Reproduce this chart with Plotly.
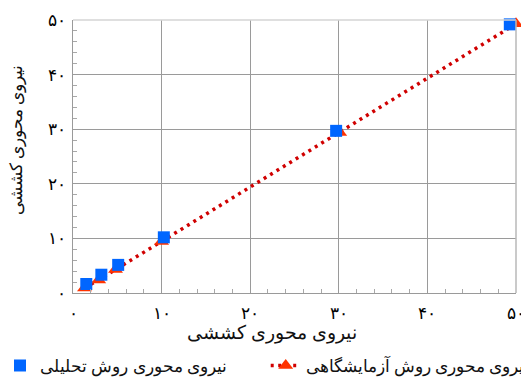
import plotly.graph_objects as go

# Axial force: analytical method (squares) and laboratory method (dotted line + triangles)
analytic_x = [1.5, 3.2, 5.1, 10.25, 29.7, 49.3]
analytic_y = [1.65, 3.35, 5.15, 10.2, 29.7, 49.2]
lab_x = [1.3, 2.9, 4.8, 10.0, 30.1, 50.0]
lab_y = [0.9, 2.4, 4.3, 9.45, 29.4, 49.3]

tick_vals = [0, 10, 20, 30, 40, 50]
tick_text = ["۰", "۱۰", "۲۰", "۳۰", "۴۰", "۵۰"]

name_analytic = "نیروی محوری روش تحلیلی"
name_lab = "نیروی محوری روش آزمایشگاهی"
axis_title = "نیروی محوری کششی"

FONT = "Liberation Serif, DejaVu Serif, serif"
GRID = "#9a9a9a"

# plot area in pixels
L, R, T, B = 73, 5, 20, 87
W, H = 521, 380
PW, PH = W - L - R, H - T - B

fig = go.Figure()

fig.add_trace(go.Scatter(
    x=lab_x, y=lab_y, name=name_lab, mode="lines+markers",
    line=dict(color="#d00000", width=3.5, dash="3px,4.5px"),
    marker=dict(symbol="triangle-up", size=13, color="#ff3300"),
    legend="legend2", cliponaxis=False,
))
fig.add_trace(go.Scatter(
    x=analytic_x, y=analytic_y, name=name_analytic, mode="markers",
    marker=dict(symbol="square", size=12, color="#0066ff"),
    legend="legend", cliponaxis=False,
))

axis_common = dict(
    range=[0, 50], tickvals=tick_vals, ticktext=tick_text,
    showgrid=True, gridcolor=GRID, gridwidth=1, zeroline=False,
    showline=True, linecolor=GRID, linewidth=1,
    ticks="inside", ticklen=5, tickcolor=GRID,
    minor=dict(dtick=2, ticks="inside", ticklen=4, tickcolor="#a8a8a8", showgrid=False),
    tickfont=dict(family=FONT, size=17, color="#000"),
    ticklabeloverflow="allow", automargin=False,
)

fig.update_layout(
    width=W, height=H,
    margin=dict(l=L, r=R, t=T, b=B),
    plot_bgcolor="white", paper_bgcolor="white",
    xaxis=dict(**axis_common, ticklabelstandoff=5),
    yaxis=dict(**axis_common, ticklabelstandoff=3),
    showlegend=True,
    legend=dict(xref="container", yref="container", x=-0.004, y=0.037,
                xanchor="left", yanchor="middle", orientation="h",
                font=dict(family=FONT, size=17, color="#111"), bgcolor="rgba(0,0,0,0)"),
    legend2=dict(xref="container", yref="container", x=0.51, y=0.037,
                 xanchor="left", yanchor="middle", orientation="h",
                 font=dict(family=FONT, size=17, color="#111"), bgcolor="rgba(0,0,0,0)"),
    shapes=[
        dict(type="line", xref="paper", yref="paper", x0=0, x1=1, y0=1, y1=1,
             line=dict(color="#d4d4d4", width=1.5)),
        dict(type="line", xref="paper", yref="paper", x0=1, x1=1, y0=0, y1=1,
             line=dict(color="#b8b8b8", width=1.5)),
    ],
    annotations=[
        dict(text=axis_title, xref="paper", yref="paper",
             x=(272 - L) / PW, y=(H - B - 333) / PH,
             showarrow=False, xanchor="center", yanchor="middle",
             font=dict(family=FONT, size=19, color="#111")),
        dict(text=axis_title, xref="paper", yref="paper",
             x=(17 - L) / PW, y=(H - B - 140) / PH,
             textangle=-90, showarrow=False, xanchor="center", yanchor="middle",
             font=dict(family=FONT, size=17, color="#111")),
    ],
)

fig.write_html("out.html")
